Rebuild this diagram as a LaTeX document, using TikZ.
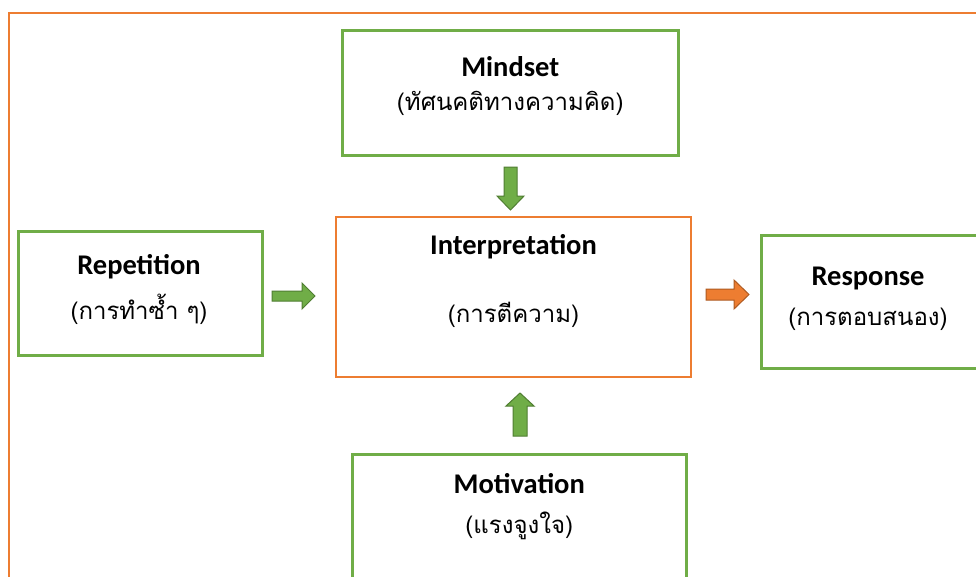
\documentclass[tikz,border=0pt]{standalone}
\usepackage{fontspec}
\setmainfont{Carlito}
\newfontfamily\thaifont[Script=Thai]{Loma}
\usetikzlibrary{calc}
\definecolor{gbox}{HTML}{70AD47}
\definecolor{gdark}{HTML}{507E32}
\definecolor{obox}{HTML}{ED7D31}
\definecolor{odark}{HTML}{AE5A21}
\tikzset{
  gframe/.style={draw=gbox, line width=2.5pt, rectangle, inner sep=0pt, anchor=north west},
  oframe/.style={draw=obox, line width=2pt, rectangle, inner sep=0pt, anchor=north west},
  title/.style={font=\bfseries\fontsize{28.5}{32}\selectfont, anchor=base, inner sep=0pt},
  thai/.style={font=\thaifont\fontsize{24}{28}\selectfont, anchor=base, inner sep=0pt},
  garrow/.style={fill=gbox, draw=gdark, line width=1pt, line join=miter},
  oarrow/.style={fill=obox, draw=odark, line width=1pt, line join=miter}
}
\begin{document}
\begin{tikzpicture}[x=1pt,y=-1pt]
\useasboundingbox (0,0) rectangle (976,576);
\clip (0,0) rectangle (976,576);
\fill[white] (0,0) rectangle (976,576);
% outer frame
\draw[obox, line width=1.5pt] (9,13) rectangle (1000,600);
% boxes
\node[gframe, minimum width=336pt, minimum height=125pt] (mind) at (341,29) {};
\node[oframe, minimum width=355pt, minimum height=160pt] (interp) at (335,216) {};
\node[gframe, minimum width=244pt, minimum height=124pt] (rep) at (17,230) {};
\node[gframe, minimum width=240pt, minimum height=133pt] (resp) at (760,234) {};
\node[gframe, minimum width=334pt, minimum height=150pt] (mot) at (351,453) {};
% texts
\node[title] (mindT) at ($(mind.north)+(0,47)$) {Mindset};
\node[thai] (mindS) at ($(mind.north)+(0,81)$) {(ทัศนคติทางความคิด)};
\node[title] (interpT) at ($(interp.north)+(0,38)$) {Interpretation};
\node[thai] (interpS) at ($(interp.north)+(0,106)$) {(การตีความ)};
\node[title] (repT) at (139,274) {Repetition};
\node[thai] (repS) at (139,319) {(การทำซ้ำ ๆ)};
\node[title] (respT) at (868,285) {Response};
\node[thai] (respS) at (868,325) {(การตอบสนอง)};
\node[title] (motT) at ($(mot.north)+(0,40)$) {Motivation};
\node[thai] (motS) at ($(mot.north)+(0,80)$) {(แรงจูงใจ)};
% block arrows
\draw[garrow] (504,167) -- (517,167) -- (517,196) -- (524,196) -- (510.5,210) -- (497,196) -- (504,196) -- cycle;
\draw[garrow] (513,436) -- (527,436) -- (527,406) -- (534,406) -- (520,393) -- (506,406) -- (513,406) -- cycle;
\draw[garrow] (272,291) -- (302,291) -- (302,283) -- (315,296) -- (302,309) -- (302,301) -- (272,301) -- cycle;
\draw[oarrow] (706,289) -- (734,289) -- (734,280) -- (749,294.5) -- (734,309) -- (734,300) -- (706,300) -- cycle;
\end{tikzpicture}
\end{document}
